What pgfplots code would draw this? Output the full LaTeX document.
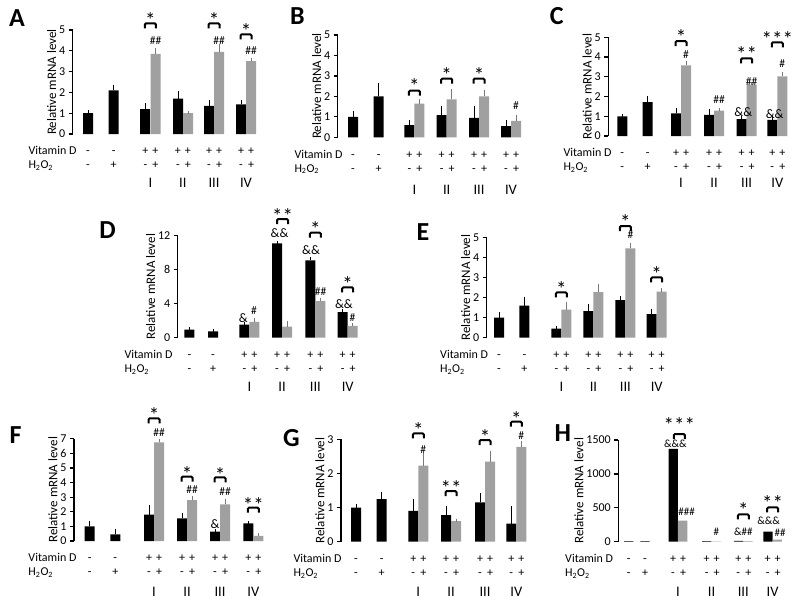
\documentclass[border=0pt]{standalone}
\usepackage{fontspec}
\setmainfont{Carlito}
\usepackage{pgfplots}
\pgfplotsset{compat=1.18}
\definecolor{barg}{RGB}{160,160,160}
\definecolor{errg}{RGB}{120,120,120}
\newcommand\fs[1]{\fontsize{#1}{#1}\selectfont}
\pgfplotsset{
 panel/.style={scale only axis, clip=false, anchor=south west,
   axis x line=none, axis y line=left, y axis line style={-, line width=1.4pt},
   xmin=0, ymin=0, xtick=\empty, tick align=outside, major tick length=4pt,
   ytick style={line width=1.2pt, black},
   yticklabel style={font=\fs{12}},
   /pgf/number format/assume math mode=true, /pgf/number format/1000 sep={},
   scaled y ticks=false,
   ylabel={Relative mRNA level}, ylabel style={font=\fs{13}, yshift=-4pt}},
 blk/.style={ybar, bar width=#1, bar shift=0pt, fill=black, draw=none,
   error bars/.cd, y dir=plus, y explicit,
   error bar style={line width=0.6pt, black},
   error mark options={line width=0.6pt, mark size=1.5pt, black}},
 blk/.default=10,
 gry/.style={ybar, bar width=#1, bar shift=0pt, fill=barg, draw=none,
   error bars/.cd, y dir=plus, y explicit,
   error bar style={line width=0.6pt, errg},
   error mark options={line width=0.6pt, mark size=1.5pt, errg}},
 gry/.default=10,
}
\tikzset{sg/.style={anchor=base, font=\fs{12}, inner sep=0pt}}
% row labels
\newcommand\pair[3]{%
 \node[sg] at ([xshift=-5pt,yshift=-20.7pt]axis cs:#1,0) {+};
 \node[sg] at ([xshift=5pt,yshift=-20.7pt]axis cs:#1,0) {+};
 \node[sg] at ([xshift=-5pt,yshift=-34.7pt]axis cs:#1,0) {-};
 \node[sg] at ([xshift=5pt,yshift=-34.7pt]axis cs:#1,0) {+};
 \node[anchor=base, font=\fs{14.5}, inner sep=0pt] at ([yshift=-#2pt]axis cs:#1,0) {#3};}
\newcommand\rows[8]{%
 \node[sg, anchor=base west] at ([yshift=-20.7pt]axis cs:#1,0) {Vitamin D};
 \node[sg, anchor=base west] at ([yshift=-34.7pt]axis cs:#1,0) {H\textsubscript{2}O\textsubscript{2}};
 \node[sg] at ([yshift=-20.7pt]axis cs:#2,0) {-};
 \node[sg] at ([yshift=-34.7pt]axis cs:#2,0) {-};
 \node[sg] at ([yshift=-20.7pt]axis cs:#3,0) {-};
 \node[sg] at ([yshift=-34.7pt]axis cs:#3,0) {+};
 \pair{#4}{#8}{I}\pair{#5}{#8}{II}\pair{#6}{#8}{III}\pair{#7}{#8}{IV}}
% bracket: center, height(px above zero)
\newcommand\brk[2]{\draw[line width=2pt, rounded corners=1.2pt] ([xshift=-5.5pt,yshift=#2pt]axis cs:#1,0) ++(0,-5pt) -- ++(0,5pt) -- ++(11pt,0) -- ++(0,-5pt);}
% stars: x, top, text
\newcommand\st[3]{\node[anchor=north, font=\fs{21}, inner sep=0pt] at ([yshift=#2pt]axis cs:#1,0) {\raisebox{0pt}[\height][0pt]{\raisebox{-5.5pt}[\dimexpr\height-5.5pt\relax][0pt]{#3}}};}
% other marks: x, center, text, size
\newcommand\tx[4]{\node[anchor=center, font=\fs{#4}, inner sep=0pt] at ([yshift=#2pt]axis cs:#1,0) {#3};}
\begin{document}
\begin{tikzpicture}
\path[use as bounding box] (0,0) rectangle (800pt,-606pt);
% panel letters
\node[font=\fs{26}\bfseries] at (17pt,-18pt) {A};
\node[font=\fs{26}\bfseries] at (297.5pt,-16pt) {B};
\node[font=\fs{26}\bfseries] at (556.7pt,-16pt) {C};
\node[font=\fs{26}\bfseries] at (107.5pt,-230pt) {D};
\node[font=\fs{26}\bfseries] at (423pt,-231.7pt) {E};
\node[font=\fs{26}\bfseries] at (15.5pt,-435pt) {F};
\node[font=\fs{26}\bfseries] at (291.3pt,-438.3pt) {G};
\node[font=\fs{26}\bfseries] at (562.7pt,-433.3pt) {H};
% ---------------- A
\begin{axis}[panel, at={(72.7pt,-134pt)}, width=190pt, height=104pt, xmax=190, ymax=5, ytick={0,1,2,3,4,5}]
\addplot[blk] coordinates {(15.3,1.0)+-(0,0.06) (41,2.1)+-(0,0.2) (72.3,1.2)+-(0,0.2) (105.3,1.7)+-(0,0.3) (136.3,1.35)+-(0,0.2) (168.3,1.42)+-(0,0.12)};
\addplot[gry] coordinates {(83,3.85)+-(0,0.2) (115.3,1.0)+-(0,0.03) (146.3,3.95)+-(0,0.3) (178.3,3.5)+-(0,0.1)};
\rows{-44.4}{15.3}{41}{77.7}{110.2}{141.3}{173.3}{53.2}
\brk{77.7}{110.7}\st{77.7}{122}{*}\tx{83}{93}{\#\#}{11.5}
\brk{141.3}{110.7}\st{141.3}{122}{*}\tx{146.3}{93}{\#\#}{11.5}
\brk{173.3}{99.7}\st{173.3}{110.7}{*}\tx{178.3}{83.3}{\#\#}{11.5}
\end{axis}
% ---------------- B
\begin{axis}[panel, at={(337.7pt,-137.3pt)}, width=190pt, height=102.3pt, xmax=190, ymax=5, ytick={0,1,2,3,4,5}]
\addplot[blk] coordinates {(15.3,1.0)+-(0,0.23) (41,2.0)+-(0,0.6) (71.7,0.6)+-(0,0.18) (104,1.08)+-(0,0.36) (136.3,0.95)+-(0,0.5) (168.3,0.55)+-(0,0.23)};
\addplot[gry] coordinates {(81.7,1.65)+-(0,0.13) (114,1.85)+-(0,0.45) (146.3,2.0)+-(0,0.25) (178.3,0.8)+-(0,0.21)};
\rows{-43.4}{15.3}{41}{76.7}{109}{141.3}{173.3}{57.2}
\brk{76.7}{46.7}\st{76.7}{59}{*}
\brk{109}{58.7}\st{109}{69.7}{*}
\brk{141.3}{58.7}\st{141.3}{69.7}{*}
\tx{178.3}{32}{\#}{11.5}
\end{axis}
% ---------------- C
\begin{axis}[panel, at={(608.3pt,-136pt)}, width=185pt, height=98.7pt, xmax=185, ymax=5, ytick={0,1,2,3,4,5}]
\addplot[blk] coordinates {(14,1.0)+-(0,0.05) (39.4,1.72)+-(0,0.25) (67.7,1.15)+-(0,0.2) (100.7,1.07)+-(0,0.24) (133.3,0.85)+-(0,0.07) (164,0.82)+-(0,0.06)};
\addplot[gry] coordinates {(77.7,3.58)+-(0,0.14) (110.7,1.28)+-(0,0.07) (143.3,2.6)+-(0,0.08) (174,3.02)+-(0,0.13)};
\rows{-45}{14}{39.4}{72.7}{105.7}{138.3}{169}{51.8}
\brk{72.7}{95}\st{72.7}{106.7}{*}\tx{77.7}{81.7}{\#}{11.5}
\tx{110.7}{36}{\#\#}{11.5}
\brk{138.3}{77.7}\st{138.3}{90}{**}\tx{143.3}{54.7}{\#\#}{11.5}\tx{135}{24.3}{\&\&}{13}
\brk{169}{93.7}\st{169}{105}{***}\tx{174}{72.7}{\#}{11.5}\tx{166.4}{21.7}{\&\&}{13}
\end{axis}
% ---------------- D
\begin{axis}[panel, at={(177.7pt,-337.7pt)}, width=190pt, height=102pt, xmax=190, ymax=12, ytick={0,4,8,12}]
\addplot[blk] coordinates {(11.7,0.95)+-(0,0.1) (35.3,0.75)+-(0,0.1) (66.7,1.55)+-(0,0.1) (99.3,11.1)+-(0,0.15) (132.7,9.1)+-(0,0.2) (165,3.0)+-(0,0.25)};
\addplot[gry] coordinates {(76.7,1.85)+-(0,0.3) (109.3,1.3)+-(0,0.45) (142.7,4.3)+-(0,0.2) (175,1.4)+-(0,0.1)};
\rows{-53.4}{11.7}{35.3}{71.7}{104.3}{137.7}{170}{53.5}
\tx{65.6}{20}{\&}{13}\tx{76.3}{27}{\#}{11.5}
\brk{104.8}{118.7}\st{104.8}{129}{**}\tx{101.8}{104.3}{\&\&}{13}
\brk{137.7}{105}\st{137.7}{116}{*}\tx{133.3}{87.7}{\&\&}{13}\tx{143}{46.3}{\#\#}{11.5}
\brk{170}{50.3}\st{170}{61}{*}\tx{166.2}{33.7}{\&\&}{13}\tx{174.7}{20}{\#}{11.5}
\end{axis}
% ---------------- E
\begin{axis}[panel, at={(486.7pt,-337.7pt)}, width=190pt, height=100.4pt, xmax=190, ymax=5, ytick={0,1,2,3,4,5}]
\addplot[blk] coordinates {(12.3,1.0)+-(0,0.21) (37.7,1.6)+-(0,0.37) (69.7,0.45)+-(0,0.07) (101.7,1.33)+-(0,0.29) (133.7,1.87)+-(0,0.13) (165,1.17)+-(0,0.2)};
\addplot[gry] coordinates {(79.7,1.4)+-(0,0.31) (111.7,2.27)+-(0,0.35) (143.7,4.45)+-(0,0.17) (175,2.3)+-(0,0.1)};
\rows{-46.7}{12.3}{37.7}{74.7}{106.7}{138.7}{170}{53.5}
\brk{74.7}{45.3}\st{74.7}{56}{*}
\brk{138.7}{111.7}\st{138.7}{123}{*}\tx{143.7}{103.3}{\#}{11.5}
\brk{170}{60.3}\st{170}{71}{*}
\end{axis}
% ---------------- F
\begin{axis}[panel, at={(74pt,-541pt)}, width=192pt, height=102.3pt, xmax=192, ymax=7, ytick={0,1,2,3,4,5,6,7}]
\addplot[blk] coordinates {(15.7,1.0)+-(0,0.25) (41.3,0.45)+-(0,0.25) (75,1.8)+-(0,0.55) (108,1.55)+-(0,0.25) (141,0.65)+-(0,0.07) (174.3,1.2)+-(0,0.05)};
\addplot[gry] coordinates {(85,6.75)+-(0,0.15) (118,2.8)+-(0,0.17) (151,2.5)+-(0,0.3) (184.3,0.35)+-(0,0.07)};
\rows{-45.7}{15.7}{41.3}{80}{113}{146}{179.3}{55.2}
\brk{80}{122.7}\st{80}{134}{*}\tx{85}{108.3}{\#\#}{11.5}
\brk{113}{64.3}\st{113}{74.5}{*}\tx{118}{51}{\#\#}{11.5}
\brk{146}{63.7}\st{146}{74}{*}\tx{151}{49.3}{\#\#}{11.5}\tx{141}{16.7}{\&}{13}
\brk{179.3}{33.3}\st{179.3}{43.5}{**}
\end{axis}
% ---------------- G
\begin{axis}[panel, at={(341pt,-541.7pt)}, width=190pt, height=102.4pt, xmax=190, ymax=3, ytick={0,1,2,3}]
\addplot[blk] coordinates {(15,1.0)+-(0,0.07) (40.7,1.25)+-(0,0.17) (72.3,0.9)+-(0,0.32) (105,0.78)+-(0,0.22) (139,1.15)+-(0,0.23) (170.3,0.53)+-(0,0.47)};
\addplot[gry] coordinates {(82.3,2.23)+-(0,0.32) (115,0.6)+-(0,0.03) (149,2.35)+-(0,0.27) (180.3,2.78)+-(0,0.14)};
\rows{-47.7}{15}{40.7}{77.3}{110}{144}{175.3}{54.5}
\brk{77.3}{108.3}\st{77.3}{119.5}{*}\tx{82.3}{92.3}{\#}{11.5}
\brk{110}{50.7}\st{110}{61.5}{**}
\brk{144}{101.7}\st{144}{112.8}{*}
\brk{175.3}{120}\st{175.3}{130.5}{*}\tx{180.3}{106.3}{\#}{11.5}
\end{axis}
% ---------------- H
\begin{axis}[panel, at={(618.3pt,-541.7pt)}, width=170pt, height=101.7pt, xmax=170, ymax=1500, ytick={0,500,1000,1500}]
\addplot[blk=9.3] coordinates {(10.4,8) (26.7,8) (55,1370) (88.5,10) (120.3,12) (149.7,150)};
\addplot[gry=9.3] coordinates {(64.3,310) (97.8,6) (129.6,8) (159,30)};
\rows{-53.3}{10.4}{26.7}{59.7}{93.3}{125}{154.3}{54.5}
\brk{61}{107.7}\st{61}{124.5}{***}\tx{57}{97.7}{\&\&\&}{11}\tx{68.4}{30}{\#\#\#}{11}
\tx{98}{10}{\#}{11}
\brk{125}{27.3}\st{125}{39.5}{*}\tx{125}{10}{\&\#\#}{11}
\brk{154.3}{34.3}\st{154.3}{46}{**}\tx{150.4}{21}{\&\&\&}{11}\tx{161.7}{9}{\#\#}{11}
\end{axis}
\end{tikzpicture}
\end{document}
